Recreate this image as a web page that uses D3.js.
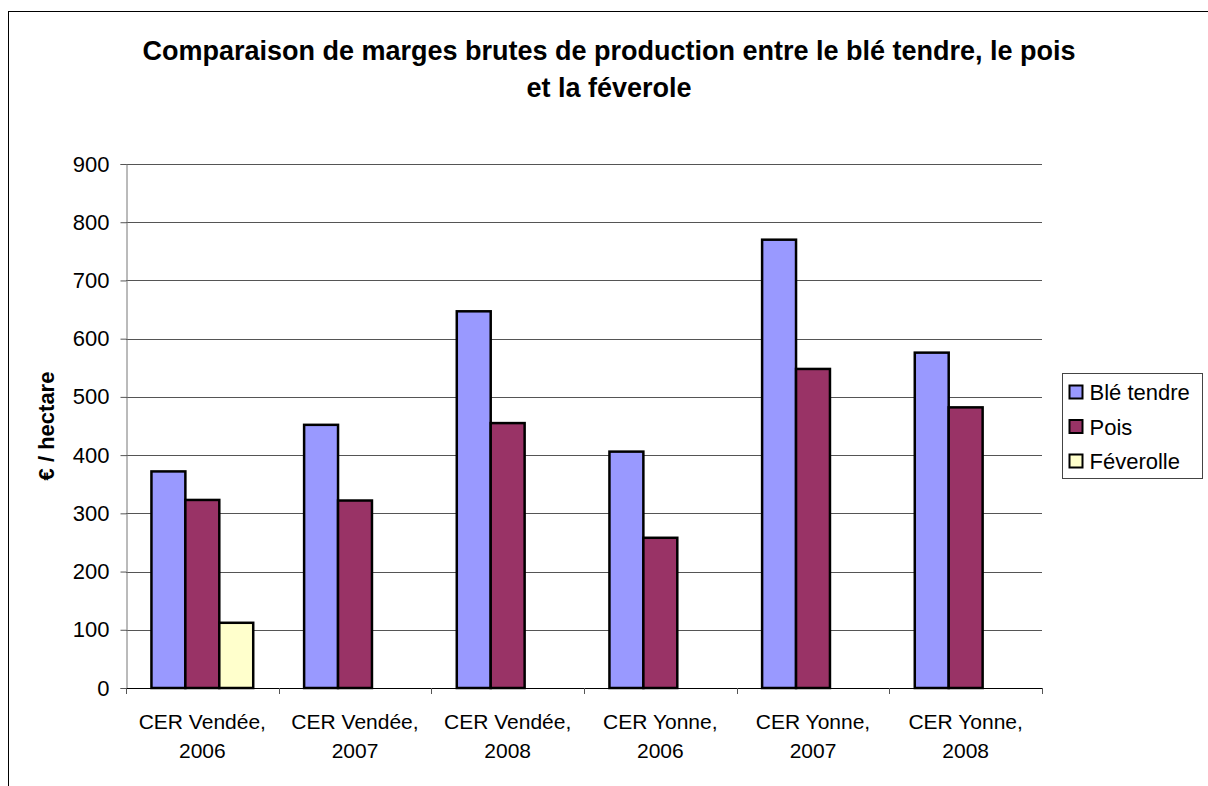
<!DOCTYPE html>
<html>
<head>
<meta charset="utf-8">
<script src="https://cdn.jsdelivr.net/npm/d3@7"></script>
<style>
  body { margin: 0; background: #fff; }
  text { font-family: "Liberation Sans", Arial, sans-serif; fill: #000; }
</style>
</head>
<body>
<div id="chart"></div>
<script>
var categories = [
  ['CER Vendée,', '2006'],
  ['CER Vendée,', '2007'],
  ['CER Vendée,', '2008'],
  ['CER Yonne,', '2006'],
  ['CER Yonne,', '2007'],
  ['CER Yonne,', '2008']
];
var seriesNames = ['Blé tendre', 'Pois', 'Féverolle'];
var ble = [372, 452, 647, 406, 770, 576];
var pois = [323, 322, 455, 258, 548, 482];
var feverole = [112, 0, 0, 0, 0, 0];
var yTicks = [0, 100, 200, 300, 400, 500, 600, 700, 800, 900];

var colors = ['#9999ff', '#993366', '#ffffcc'];
var series = [ble, pois, feverole];

var svgWidth = 1208, svgHeight = 786;
var plotLeft = 126, plotRight = 1042, plotTop = 164, plotBottom = 688;

var svg = d3.select('#chart')
  .append('svg')
  .attr('width', svgWidth)
  .attr('height', svgHeight);

// outer frame (runs off the page like the original)
svg.append('rect')
  .attr('x', 8.5).attr('y', 11.5)
  .attr('width', 1400).attr('height', 1000)
  .attr('fill', 'none')
  .attr('stroke', '#000')
  .attr('stroke-width', 1);

// title
var title = svg.append('text')
  .attr('text-anchor', 'middle')
  .style('font-size', '27px')
  .style('font-weight', 'bold');
title.append('tspan').attr('x', 609).attr('y', 60)
  .text('Comparaison de marges brutes de production entre le blé tendre, le pois');
title.append('tspan').attr('x', 609).attr('y', 97)
  .text('et la féverole');

var x0 = d3.scaleBand()
  .domain(d3.range(categories.length))
  .range([plotLeft, plotRight]);

var x1 = d3.scaleBand()
  .domain(d3.range(seriesNames.length))
  .range([0, x0.bandwidth()])
  .paddingOuter(0.75)
  .paddingInner(0);

var y = d3.scaleLinear()
  .domain([0, 900])
  .range([plotBottom, plotTop]);

// gridlines
svg.append('g')
  .selectAll('line')
  .data(yTicks.slice(1))
  .enter()
  .append('line')
  .attr('x1', plotLeft).attr('x2', plotRight)
  .attr('y1', function(d) { return Math.round(y(d)) + 0.5; })
  .attr('y2', function(d) { return Math.round(y(d)) + 0.5; })
  .attr('stroke', '#555')
  .attr('stroke-width', 1);

// y axis
var yAxis = svg.append('g')
  .attr('transform', 'translate(' + (plotLeft + 0.5) + ',0)')
  .call(d3.axisLeft(y).tickValues(yTicks).tickSize(6).tickPadding(11));
yAxis.select('.domain').attr('stroke', '#777');
yAxis.selectAll('.tick line').attr('stroke', '#555');
yAxis.selectAll('text').style('font-size', '22px').attr('fill', '#000')
  .style('font-family', '"Liberation Sans", Arial, sans-serif');

// y title
svg.append('text')
  .attr('transform', 'translate(54,' + ((plotTop + plotBottom) / 2) + ') rotate(-90)')
  .attr('text-anchor', 'middle')
  .style('font-size', '22px')
  .style('font-weight', 'bold')
  .text('€ / hectare');

// bars
var groups = svg.append('g')
  .selectAll('g')
  .data(categories)
  .enter()
  .append('g')
  .attr('transform', function(d, i) { return 'translate(' + x0(i) + ',0)'; });

groups.selectAll('rect')
  .data(function(d, i) {
    return series.map(function(s, j) { return { k: j, v: s[i] }; })
      .filter(function(e) { return e.v > 0; });
  })
  .enter()
  .append('rect')
  .attr('x', function(d) { return x1(d.k); })
  .attr('y', function(d) { return y(d.v); })
  .attr('width', x1.bandwidth())
  .attr('height', function(d) { return y(0) - y(d.v); })
  .attr('fill', function(d) { return colors[d.k]; })
  .attr('stroke', '#000')
  .attr('stroke-width', 2.5);

// x axis line and ticks at category boundaries
svg.append('line')
  .attr('x1', plotLeft).attr('x2', plotRight)
  .attr('y1', plotBottom + 0.5).attr('y2', plotBottom + 0.5)
  .attr('stroke', '#000');
svg.append('g')
  .selectAll('line')
  .data(d3.range(categories.length + 1))
  .enter()
  .append('line')
  .attr('x1', function(i) { return Math.round(plotLeft + i * x0.bandwidth()) + 0.5; })
  .attr('x2', function(i) { return Math.round(plotLeft + i * x0.bandwidth()) + 0.5; })
  .attr('y1', plotBottom).attr('y2', plotBottom + 6)
  .attr('stroke', '#555');

// x labels
var xl = svg.append('g')
  .selectAll('text')
  .data(categories)
  .enter()
  .append('text')
  .attr('text-anchor', 'middle')
  .style('font-size', '21px');
xl.append('tspan')
  .attr('x', function(d, i) { return x0(i) + x0.bandwidth() / 2; })
  .attr('y', 729)
  .text(function(d) { return d[0]; });
xl.append('tspan')
  .attr('x', function(d, i) { return x0(i) + x0.bandwidth() / 2; })
  .attr('y', 758)
  .text(function(d) { return d[1]; });

// legend
var legend = svg.append('g').attr('transform', 'translate(1062.5,373.5)');
legend.append('rect')
  .attr('width', 140).attr('height', 105)
  .attr('fill', '#fff')
  .attr('stroke', '#444');

var item = legend.selectAll('.legend')
  .data(seriesNames)
  .enter()
  .append('g')
  .attr('class', 'legend')
  .attr('transform', function(d, i) { return 'translate(0,' + (19 + i * 34.5) + ')'; });

item.append('rect')
  .attr('x', 7).attr('y', -7)
  .attr('width', 13).attr('height', 13)
  .attr('fill', function(d, i) { return colors[i]; })
  .attr('stroke', '#000')
  .attr('stroke-width', 2);

item.append('text')
  .attr('x', 27).attr('y', 7.5)
  .style('font-size', '22px')
  .text(function(d) { return d; });
</script>
</body>
</html>
